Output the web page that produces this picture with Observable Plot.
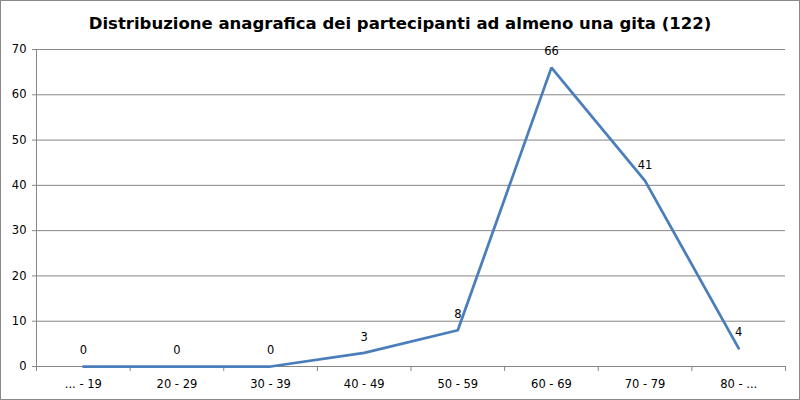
<!DOCTYPE html>
<html>
<head>
<meta charset="utf-8">
<script src="https://cdn.jsdelivr.net/npm/d3@7"></script>
<script src="https://cdn.jsdelivr.net/npm/@observablehq/plot@0.6"></script>
<style>
  body { margin: 0; background: #fff; }
  #wrap { position: relative; width: 800px; height: 400px; overflow: hidden; background: #fff; font-family: "DejaVu Sans", sans-serif; }
  #border { position: absolute; left: 0; top: 0; width: 800px; height: 400px; box-sizing: border-box; border: 1px solid #898989; pointer-events: none; }
  #title { position: absolute; left: 0; top: 12px; width: 800px; text-align: center; font-weight: bold; font-size: 16.5px; line-height: 24px; color: #000; }
  #chart { position: absolute; left: 0; top: 40px; }
</style>
</head>
<body>
<div id="wrap">
  <div id="title">Distribuzione anagrafica dei partecipanti ad almeno una gita (122)</div>
  <div id="chart"></div>
  <div id="border"></div>
</div>
<script>
const categories = ["... - 19", "20 - 29", "30 - 39", "40 - 49", "50 - 59", "60 - 69", "70 - 79", "80 - ..."];
const counts = [0, 0, 0, 3, 8, 66, 41, 4];
const yTicks = [0, 10, 20, 30, 40, 50, 60, 70];

const data = categories.map((c, i) => ({cat: c, n: counts[i]}));

const W = 800, H = 360;
const mL = 36, mR = 15, mT = 9, mB = 34;
const bw = (W - mL - mR) / categories.length;
const grid = "#868686";

const plot = Plot.plot({
  width: W,
  height: H,
  marginLeft: mL,
  marginRight: mR,
  marginTop: mT,
  marginBottom: mB,
  style: {fontFamily: "DejaVu Sans, sans-serif", fontSize: "11.5px", color: "#000", background: "#fff"},
  x: {type: "band", domain: categories, padding: 0, round: false, label: null},
  y: {domain: [0, 70], label: null},
  marks: [
    Plot.ruleY(yTicks, {stroke: grid, strokeWidth: 1}),
    Plot.axisY(yTicks, {tickSize: 4, tickPadding: 6, stroke: grid, fontSize: 11.5, fill: "#000", label: null}),
    Plot.axisX({tickSize: 0, tickPadding: 13, fontSize: 11.5, fill: "#000", label: null}),
    Plot.ruleX(categories, {x: d => d, y1: 0, y2: 0, insetBottom: -5, dx: -bw / 2, stroke: grid, strokeWidth: 1}),
    Plot.ruleX([categories[categories.length - 1]], {x: d => d, y1: 0, y2: 0, insetBottom: -5, dx: bw / 2, stroke: grid, strokeWidth: 1}),
    Plot.ruleX([categories[0]], {x: d => d, y1: 0, y2: 70, dx: -bw / 2, stroke: grid}),
    Plot.line(data, {x: "cat", y: "n", stroke: "#4A7EBB", strokeWidth: 2.75, strokeLinejoin: "miter"}),
    Plot.text(data, {x: "cat", y: "n", text: d => String(d.n), dy: -16, fontSize: 11.5, fill: "#000"})
  ]
});
document.getElementById("chart").appendChild(plot);
</script>
</body>
</html>
